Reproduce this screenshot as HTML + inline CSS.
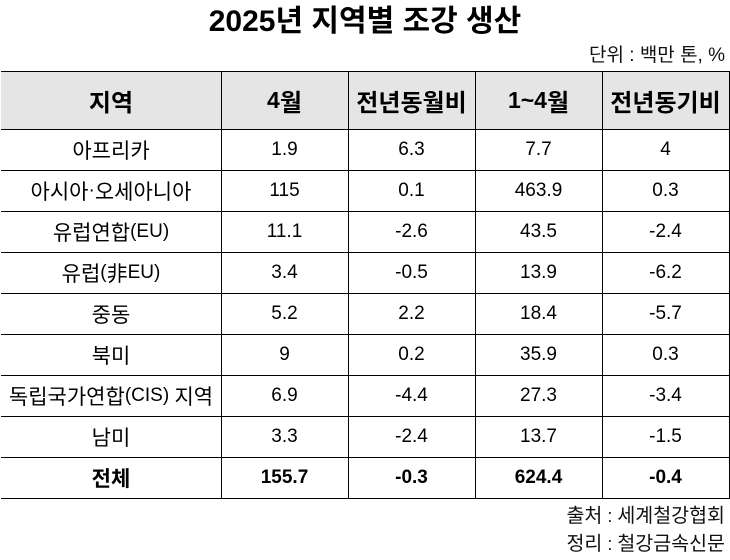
<!DOCTYPE html>
<html><head><meta charset="utf-8">
<style>
html,body{margin:0;padding:0;background:#fff;}
body{width:730px;height:560px;position:relative;overflow:hidden;font-family:"Liberation Sans","Noto Sans CJK KR",sans-serif;color:#000;}
.h{position:absolute;left:1px;width:729px;height:1px;background:#000;}
.v{position:absolute;top:71px;height:428px;width:1px;background:#000;}
.c{position:absolute;display:flex;align-items:center;justify-content:center;font-size:19px;white-space:nowrap;}
.k{font-size:21px;}
.l{font-size:19px;}
.hd{font-size:24px;font-weight:bold;}
.hd .n{font-size:23px;}
.b{font-weight:bold;}
.r{position:absolute;right:5px;font-size:19.5px;white-space:nowrap;line-height:22px;color:#111;}
.r .s{font-size:18px;}
</style></head><body>
<div style="position:absolute;left:0;top:3px;width:730px;text-align:center;font-size:30px;font-weight:bold;line-height:38px;">2025년 지역별 조강 생산</div>
<div class="r" style="top:45px;font-size:19px;">단위 : 백만 톤, %</div>

<div style="position:absolute;left:1px;top:71px;width:729px;height:58px;background:#e5e5e5;"></div>

<div class="h" style="top:71px"></div>
<div class="h" style="top:129px"></div>
<div class="h" style="top:170px"></div>
<div class="h" style="top:211px"></div>
<div class="h" style="top:252px"></div>
<div class="h" style="top:293px"></div>
<div class="h" style="top:334px"></div>
<div class="h" style="top:375px"></div>
<div class="h" style="top:416px"></div>
<div class="h" style="top:457px"></div>
<div class="h" style="top:498px"></div>

<div class="v" style="left:221px"></div>
<div class="v" style="left:348px"></div>
<div class="v" style="left:475px"></div>
<div class="v" style="left:602px"></div>
<div class="v" style="left:729px"></div>

<!-- header -->
<div class="c hd" style="left:1px;width:220px;top:71px;height:58px;">지역</div>
<div class="c hd" style="left:221px;width:127px;top:71px;height:58px;"><span class="n">4</span>월</div>
<div class="c hd" style="left:348px;width:127px;top:71px;height:58px;">전년동월비</div>
<div class="c hd" style="left:475px;width:127px;top:71px;height:58px;"><span class="n">1~4</span>월</div>
<div class="c hd" style="left:602px;width:127px;top:71px;height:58px;">전년동기비</div>

<!-- rows -->
<div class="c k" style="left:1px;width:220px;top:129px;height:41px;">아프리카</div>
<div class="c" style="left:221px;width:127px;top:129px;height:41px;">1.9</div>
<div class="c" style="left:348px;width:127px;top:129px;height:41px;">6.3</div>
<div class="c" style="left:475px;width:127px;top:129px;height:41px;">7.7</div>
<div class="c" style="left:602px;width:127px;top:129px;height:41px;">4</div>

<div class="c k" style="left:1px;width:220px;top:170px;height:41px;">아시아<span class="l">·</span>오세아니아</div>
<div class="c" style="left:221px;width:127px;top:170px;height:41px;">115</div>
<div class="c" style="left:348px;width:127px;top:170px;height:41px;">0.1</div>
<div class="c" style="left:475px;width:127px;top:170px;height:41px;">463.9</div>
<div class="c" style="left:602px;width:127px;top:170px;height:41px;">0.3</div>

<div class="c k" style="left:1px;width:220px;top:211px;height:41px;">유럽연합<span class="l">(EU)</span></div>
<div class="c" style="left:221px;width:127px;top:211px;height:41px;">11.1</div>
<div class="c" style="left:348px;width:127px;top:211px;height:41px;">-2.6</div>
<div class="c" style="left:475px;width:127px;top:211px;height:41px;">43.5</div>
<div class="c" style="left:602px;width:127px;top:211px;height:41px;">-2.4</div>

<div class="c k" style="left:1px;width:220px;top:252px;height:41px;">유럽<span class="l">(</span>非<span class="l">EU)</span></div>
<div class="c" style="left:221px;width:127px;top:252px;height:41px;">3.4</div>
<div class="c" style="left:348px;width:127px;top:252px;height:41px;">-0.5</div>
<div class="c" style="left:475px;width:127px;top:252px;height:41px;">13.9</div>
<div class="c" style="left:602px;width:127px;top:252px;height:41px;">-6.2</div>

<div class="c k" style="left:1px;width:220px;top:293px;height:41px;">중동</div>
<div class="c" style="left:221px;width:127px;top:293px;height:41px;">5.2</div>
<div class="c" style="left:348px;width:127px;top:293px;height:41px;">2.2</div>
<div class="c" style="left:475px;width:127px;top:293px;height:41px;">18.4</div>
<div class="c" style="left:602px;width:127px;top:293px;height:41px;">-5.7</div>

<div class="c k" style="left:1px;width:220px;top:334px;height:41px;">북미</div>
<div class="c" style="left:221px;width:127px;top:334px;height:41px;">9</div>
<div class="c" style="left:348px;width:127px;top:334px;height:41px;">0.2</div>
<div class="c" style="left:475px;width:127px;top:334px;height:41px;">35.9</div>
<div class="c" style="left:602px;width:127px;top:334px;height:41px;">0.3</div>

<div class="c k" style="left:1px;width:220px;top:375px;height:41px;">독립국가연합<span class="l">(CIS)&nbsp;</span>지역</div>
<div class="c" style="left:221px;width:127px;top:375px;height:41px;">6.9</div>
<div class="c" style="left:348px;width:127px;top:375px;height:41px;">-4.4</div>
<div class="c" style="left:475px;width:127px;top:375px;height:41px;">27.3</div>
<div class="c" style="left:602px;width:127px;top:375px;height:41px;">-3.4</div>

<div class="c k" style="left:1px;width:220px;top:416px;height:41px;">남미</div>
<div class="c" style="left:221px;width:127px;top:416px;height:41px;">3.3</div>
<div class="c" style="left:348px;width:127px;top:416px;height:41px;">-2.4</div>
<div class="c" style="left:475px;width:127px;top:416px;height:41px;">13.7</div>
<div class="c" style="left:602px;width:127px;top:416px;height:41px;">-1.5</div>

<div class="c k b" style="left:1px;width:220px;top:457px;height:41px;">전체</div>
<div class="c b" style="left:221px;width:127px;top:457px;height:41px;">155.7</div>
<div class="c b" style="left:348px;width:127px;top:457px;height:41px;">-0.3</div>
<div class="c b" style="left:475px;width:127px;top:457px;height:41px;">624.4</div>
<div class="c b" style="left:602px;width:127px;top:457px;height:41px;">-0.4</div>

<div class="r" style="top:505px;">출처<span class="s"> : </span>세계철강협회</div>
<div class="r" style="top:533px;">정리<span class="s"> : </span>철강금속신문</div>
</body></html>
